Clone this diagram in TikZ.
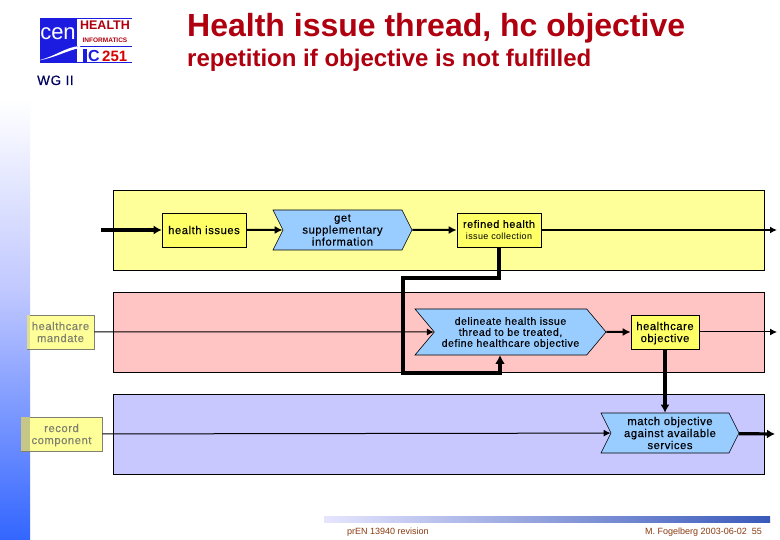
\documentclass[tikz,border=0pt]{standalone}
\usepackage{fontspec}
\setmainfont{Liberation Sans}
\newfontfamily\boxfont[LetterSpace=5,FakeBold=0.35]{Liberation Sans}
\newfontfamily\smallboxfont[LetterSpace=4]{Liberation Sans}
\usetikzlibrary{shapes.symbols,arrows.meta}
\definecolor{bandyellow}{HTML}{FFFF99}
\definecolor{bandred}{HTML}{FFC4C4}
\definecolor{bandblue}{HTML}{C8C8FF}
\definecolor{boxyellow}{HTML}{FFFF66}
\definecolor{stepblue}{HTML}{99CCFF}
\definecolor{titlered}{HTML}{B00010}
\definecolor{footbrown}{HTML}{8A3A10}
\definecolor{stripblue}{HTML}{3366FF}
\definecolor{strippale}{HTML}{C0C8FF}
\definecolor{logoblue}{HTML}{1C1CE0}
\definecolor{wgnavy}{HTML}{000060}
\definecolor{refgray}{HTML}{808070}
\tikzset{
  band/.style={draw=black,line width=0.8pt},
  infobox/.style={draw=black,fill=boxyellow,line width=0.6pt,align=center,inner sep=0pt,text depth=0pt,
    font=\boxfont\fontsize{11.2}{12}\selectfont},
  refbox/.style={infobox,fill=bandyellow,draw=refgray,text=refgray},
  stepbox/.style={signal,signal to=east,signal from=west,draw=black,fill=stepblue,
    line width=0.6pt,align=center,inner sep=0pt,text depth=0pt,font=\boxfont\fontsize{11.2}{12}\selectfont},
  thinflow/.style={line width=1pt,-{Latex[length=7pt,width=7pt]}},
  midflow/.style={line width=2pt,-{Latex[length=8pt,width=8pt]}},
  thickflow/.style={line width=3.2pt,-{Latex[length=8pt,width=9pt]}},
}
\begin{document}
\begin{tikzpicture}[x=1pt,y=-1pt]
\useasboundingbox (0,0) rectangle (780,540);
% slide background
\fill[white] (0,0) rectangle (780,540);
\shade[top color=white,bottom color=strippale] (0,100) rectangle (30,290);
\shade[top color=strippale,bottom color=stripblue] (0,290) rectangle (30,540);
\shade[left color=black!5!blue!10,right color=stripblue!70!black!90] (324,516) rectangle (770,522);
% logo
\fill[logoblue] (40,18) rectangle (77,63);
\fill[logoblue] (77,18) rectangle (132,18.8);
\fill[logoblue] (77,46) rectangle (132,47);
\fill[logoblue] (77,62) rectangle (132,63);
\fill[logoblue] (83,49) rectangle (87,62);
\fill[white] (36,61) .. controls (55,57) and (65,47) .. (80,46) -- (80,48) .. controls (68,50) and (55,58) .. (36,61) -- cycle;
\node[inner sep=0pt,text=white,font=\fontsize{22}{22}\selectfont] (logocen) at (58,34) {cen};
\node[inner sep=0pt,text=titlered,font=\bfseries\fontsize{12.5}{13}\selectfont] (logohealth) at (105,25.5) {HEALTH};
\node[inner sep=0pt,text=titlered,font=\bfseries\fontsize{6.5}{7}\selectfont] (logoinfo) at (105,40) {INFORMATICS};
\node[inner sep=0pt,text=logoblue,font=\bfseries\fontsize{16}{16}\selectfont,anchor=west] (logoic) at (88,56) {C};
\node[inner sep=0pt,text=red!85!black,font=\bfseries\fontsize{15}{15}\selectfont,anchor=west] (logonum) at (102,56) {251};
\node[inner sep=0pt,anchor=base west,text=wgnavy,font=\boxfont\fontsize{13.5}{15}\selectfont] (wg) at (37,85) {WG II};
% title
\node[inner sep=0pt,anchor=base west,text=titlered,font=\bfseries\fontsize{32}{32}\selectfont] (title) at (187,37) {Health issue thread, hc objective};
\node[inner sep=0pt,anchor=base west,text=titlered,font=\bfseries\fontsize{24}{24}\selectfont] (subtitle) at (187,67) {repetition if objective is not fulfilled};
% bands
\filldraw[band,fill=bandyellow] (113,190) rectangle (764,270);
\filldraw[band,fill=bandred] (113,292) rectangle (764,372);
\filldraw[band,fill=bandblue] (113,394) rectangle (764,474);
% nodes
\node[infobox,minimum width=84pt,minimum height=34pt] (issues) at (204,230) {health issues};
\node[stepbox,minimum width=139pt,minimum height=40pt,signal pointer angle=127] (supplement) at (342.5,230) {get\\supplementary\\information};
\node[infobox,minimum width=84pt,minimum height=34pt,font=\boxfont\fontsize{10.8}{12}\selectfont] (refined) at (499,230) {refined health\\{\smallboxfont\fontsize{9}{11}\selectfont issue collection}};
\node[refbox,minimum width=67pt,minimum height=34pt] (mandate) at (60.5,332) {healthcare\\mandate};
\node[stepbox,minimum width=191pt,minimum height=46pt,signal pointer angle=100,font=\boxfont\fontsize{10.5}{11}\selectfont] (delineate) at (510.5,332) {delineate health issue\\thread to be treated,\\define healthcare objective};
\node[infobox,minimum width=68pt,minimum height=34pt] (objective) at (665,332) {healthcare\\objective};
\node[refbox,minimum width=81pt,minimum height=34pt] (component) at (61.5,434) {record\\component};
\node[stepbox,minimum width=138pt,minimum height=40pt,signal pointer angle=127] (match) at (670,433) {match objective\\against available\\services};
% where the boxes lie over the strip
\fill[fill=refgray!45!bandyellow] (21.4,417.4) rectangle (30,450.6);
\fill[fill=refgray!25!bandyellow] (27.4,315.4) rectangle (30,348.6);
% free ends
\coordinate (issuesin) at (101,230);
\coordinate (refinedout) at (777,230);
\coordinate (objectiveout) at (777,332);
\coordinate (matchout) at (775,434);
\coordinate (bendtop) at (403,278);
\coordinate (bendlow) at (403,373);
\coordinate (delineatein) at (500,355);
% connectors
\draw[thickflow] (issuesin) -- (issues);
\draw[midflow] (issues) -- (supplement);
\draw[midflow] (supplement) -- (refined);
\draw[midflow,-{Latex[length=7pt,width=7pt]}] (refined) -- (refinedout);
\draw[thickflow,-{Latex[length=9pt,width=10pt]}] (refined.south) |- (bendtop) -- (bendlow) -| (delineatein);
\draw[thinflow] (mandate) -- (delineate);
\draw[midflow] (delineate) -- (objective);
\draw[thinflow] (objective) -- (objectiveout);
\draw[thickflow] (objective.south) -- (objective.south |- match.north);
\draw[thinflow] (component) -- (match);
\draw[thickflow] (match) -- (matchout);
% footer
\node[inner sep=0pt,anchor=base west,text=footbrown,font=\fontsize{9}{9}\selectfont] (footleft) at (347,534) {prEN 13940 revision};
\node[inner sep=0pt,anchor=base east,text=footbrown,font=\fontsize{9}{9}\selectfont] (footright) at (762,534) {M. Fogelberg 2003-06-02 \ 55};
\end{tikzpicture}
\end{document}
